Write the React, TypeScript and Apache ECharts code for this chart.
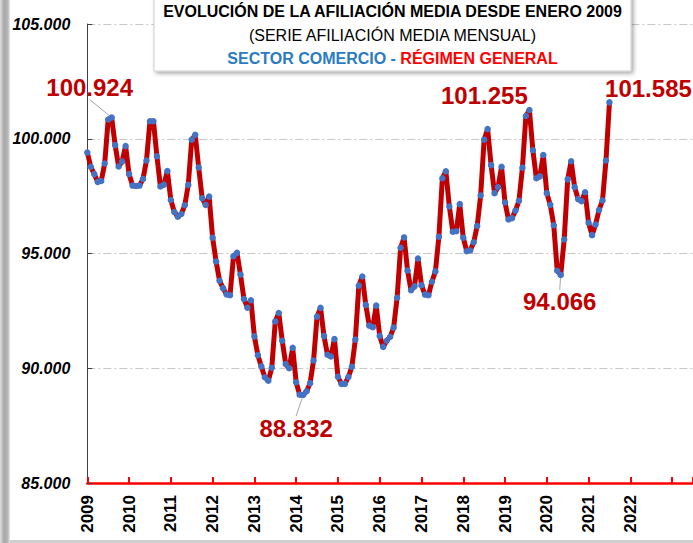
import React, { useEffect, useRef } from "react";
import * as echarts from "echarts";

// ---- data ----
const startYear = 2009;
const lastLabelYear = 2022;
const yMin = 85000;
const yMax = 105000;
const yStep = 5000;

const v2009 = [99400, 98780, 98460, 98120, 98160, 98920, 100840, 100924, 99720, 98790, 99010, 99680];
const v2010 = [98460, 97960, 97940, 97960, 98250, 99050, 100760, 100760, 99240, 97920, 98000, 98590];
const v2011 = [97330, 96810, 96600, 96720, 97100, 97990, 99960, 100170, 98750, 97410, 97120, 97480];
const v2012 = [95690, 94650, 93810, 93490, 93220, 93180, 94880, 95030, 94080, 93020, 92640, 92960];
const v2013 = [91390, 90570, 90080, 89610, 89460, 90020, 92040, 92410, 91200, 90180, 90000, 90890];
const v2014 = [89390, 88850, 88832, 89000, 89350, 90340, 92250, 92630, 91400, 90590, 90510, 91270];
const v2015 = [89630, 89320, 89320, 89620, 90060, 91250, 93600, 94000, 92760, 91860, 91790, 92730];
const v2016 = [91410, 90930, 91200, 91370, 91770, 93070, 95250, 95700, 94260, 93400, 93570, 94780];
const v2017 = [93620, 93210, 93180, 93770, 94220, 95730, 98280, 98580, 97050, 95950, 95970, 97150];
const v2018 = [95690, 95100, 95130, 95490, 96200, 97530, 99960, 100420, 98850, 97630, 97890, 98780];
const v2019 = [97220, 96480, 96540, 96870, 97300, 98740, 100990, 101255, 99500, 98280, 98360, 99290];
const v2020 = [97630, 97120, 96230, 94250, 94066, 95610, 98230, 99020, 97890, 97370, 97280, 97670];
const v2021 = [96340, 95800, 96260, 96890, 97310, 99050, 101585];

const values = [
  ...v2009, ...v2010, ...v2011, ...v2012, ...v2013, ...v2014, ...v2015,
  ...v2016, ...v2017, ...v2018, ...v2019, ...v2020, ...v2021,
];

// months (index from Jan 2009) whose value is labelled
const labelledMonths = [7, 62, 127, 136, 150];
const guidedMonths = [7, 62, 136];

const titleLine1 = "EVOLUCIÓN DE LA AFILIACIÓN MEDIA DESDE ENERO 2009";
const titleLine2 = "(SERIE AFILIACIÓN MEDIA MENSUAL)";
const titleLine3a = "SECTOR COMERCIO -";
const titleLine3b = "RÉGIMEN GENERAL";

// ---- layout (pixels) ----
const labelOffsets: Record<number, [number, number]> = {
  7: [-22, -30],
  62: [-7, 33],
  127: [-45, -14],
  136: [-1, 27],
  150: [39, -14],
};

const FONT = "'Liberation Sans', Arial, sans-serif";

const fmt = (v: number) =>
  Math.round(v).toString().replace(/\B(?=(\d{3})+(?!\d))/g, ".");

export default function App() {
  const ref = useRef<HTMLDivElement>(null);

  useEffect(() => {
    if (!ref.current) return;
    const chart = echarts.init(ref.current, undefined, { renderer: "svg" });

    const data = values.map((v, i) => {
      if (labelledMonths.includes(i)) {
        return {
          value: [i, v],
          label: { show: true },
          labelLine: { show: guidedMonths.includes(i) },
        };
      }
      return { value: [i, v] };
    });

    chart.setOption({
      animation: false,
      backgroundColor: "#ffffff",
      grid: { left: 87.3, top: 24, bottom: 60, right: -3 },
      xAxis: {
        type: "value",
        min: 0,
        max: 174,
        interval: 12,
        axisLine: { show: true, lineStyle: { color: "#FF0000", width: 2.5 } },
        axisTick: { show: true, inside: true, length: 6, lineStyle: { color: "#FF0000", width: 2 } },
        axisLabel: {
          rotate: 90,
          margin: 12,
          padding: [6, 0, 0, 0],
          fontWeight: "bold",
          fontSize: 17,
          color: "#000",
          fontFamily: FONT,
          formatter: (v: number) => {
            if (v % 12 !== 0) return "";
            const y = startYear + v / 12;
            return y <= lastLabelYear ? String(y) : "";
          },
        },
        splitLine: { show: false },
      },
      yAxis: {
        type: "value",
        min: yMin,
        max: yMax,
        interval: yStep,
        axisLine: { show: true, lineStyle: { color: "#404040", width: 1 } },
        axisTick: { show: true, inside: true, length: 5, lineStyle: { color: "#404040" } },
        axisLabel: {
          margin: 17,
          fontStyle: "italic",
          fontWeight: "bold",
          fontSize: 16,
          color: "#000",
          fontFamily: FONT,
          formatter: (v: number) => fmt(v),
        },
        splitLine: {
          show: true,
          lineStyle: { color: "#C8C8C8", width: 1, type: [8, 3, 2, 3] },
        },
      },
      series: [
        {
          type: "line",
          data,
          symbol: "circle",
          symbolSize: 6.5,
          showAllSymbol: true,
          itemStyle: { color: "#4472C4" },
          lineStyle: { color: "#C00000", width: 5 },
          label: {
            show: false,
            formatter: (p: any) => fmt(p.value[1]),
            color: "#C00000",
            fontSize: 24,
            fontWeight: "bold",
            fontFamily: FONT,
          },
          labelLine: { lineStyle: { color: "#A6A6A6", width: 1 } },
          labelLayout: (params: any) => {
            const off = labelOffsets[params.dataIndex];
            if (!off) return {};
            const r = params.rect;
            return {
              x: r.x + r.width / 2 + off[0],
              y: r.y + r.height / 2 + off[1],
              align: "center",
              verticalAlign: "middle",
            };
          },
          z: 3,
        },
      ],
      graphic: [
        {
          type: "rect",
          shape: { x: 0, y: 0, width: 10, height: 543 },
          style: {
            fill: new echarts.graphic.LinearGradient(0, 0, 1, 0, [
              { offset: 0, color: "#E0E0E0" },
              { offset: 0.4, color: "#A8A8A8" },
              { offset: 0.8, color: "#B8B8B8" },
              { offset: 1, color: "#EEEEEE" },
            ]),
          },
          z: 10,
        },
        {
          type: "rect",
          shape: { x: 10, y: 540, width: 683, height: 3 },
          style: { fill: "#CFCFCF" },
          z: 10,
        },
        {
          type: "rect",
          shape: { x: 154, y: -20, width: 477, height: 91 },
          style: {
            fill: "#ffffff",
            stroke: "#D0D0D0",
            lineWidth: 1,
            shadowBlur: 4,
            shadowOffsetX: 2,
            shadowOffsetY: 2,
            shadowColor: "rgba(0,0,0,0.35)",
          },
          z: 20,
        },
        {
          type: "text",
          x: 392.5,
          y: 11,
          style: {
            text: titleLine1,
            align: "center",
            verticalAlign: "middle",
            fontSize: 16,
            fontWeight: "bold",
            fontFamily: FONT,
            fill: "#000",
          },
          z: 21,
        },
        {
          type: "text",
          x: 392.5,
          y: 35,
          style: {
            text: titleLine2,
            align: "center",
            verticalAlign: "middle",
            fontSize: 16,
            fontFamily: FONT,
            fill: "#000",
          },
          z: 21,
        },
        {
          type: "text",
          x: 392.5,
          y: 58.5,
          style: {
            text: `{b|${titleLine3a}} {r|${titleLine3b}}`,
            align: "center",
            verticalAlign: "middle",
            fontSize: 16,
            fontWeight: "bold",
            fontFamily: FONT,
            rich: {
              b: { fill: "#2B7BC4", fontSize: 16, fontWeight: "bold", fontFamily: FONT },
              r: { fill: "#FF0000", fontSize: 16, fontWeight: "bold", fontFamily: FONT },
            },
          },
          z: 21,
        },
      ],
    });

    return () => chart.dispose();
  }, []);

  return (
    <div
      ref={ref}
      style={{ position: "fixed", left: 0, top: 0, width: 693, height: 543, background: "#fff" }}
    />
  );
}
